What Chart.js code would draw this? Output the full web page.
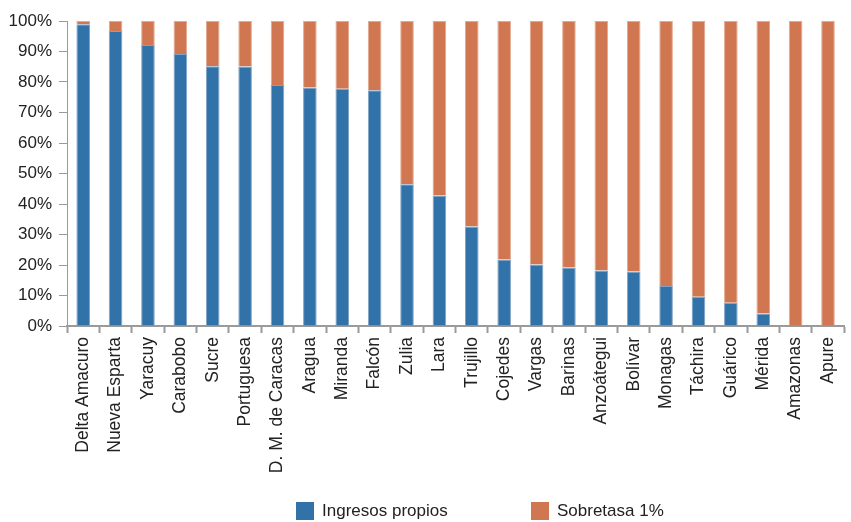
<!DOCTYPE html>
<html>
<head>
<meta charset="utf-8">
<script src="https://cdn.jsdelivr.net/npm/chart.js@4"></script>
<style>
  html, body { margin: 0; padding: 0; overflow: hidden; background: #fff; }
  #wrap { position: relative; width: 853px; height: 522px; }
  .leg { position: absolute; top: 502px; display: flex; align-items: center;
         font: 17px "Liberation Sans", Arial, sans-serif; color: #222; line-height: 18px; }
  .leg i { display: inline-block; width: 18px; height: 18px; margin-right: 8px; }
</style>
</head>
<body>
<div id="wrap">
  <canvas id="chart" width="853" height="522"></canvas>
  <div class="leg" style="left:296px"><i style="background:#3172a8"></i>Ingresos propios</div>
  <div class="leg" style="left:531px"><i style="background:#d07650"></i>Sobretasa 1%</div>
</div>
<script>
// Estados
const estados = ['Delta Amacuro', 'Nueva Esparta', 'Yaracuy', 'Carabobo', 'Sucre', 'Portuguesa',
  'D. M. de Caracas', 'Aragua', 'Miranda', 'Falcón', 'Zulia', 'Lara', 'Trujillo', 'Cojedes',
  'Vargas', 'Barinas', 'Anzoátegui', 'Bolívar', 'Monagas', 'Táchira', 'Guárico', 'Mérida',
  'Amazonas', 'Apure'];

// % of revenue
const ingresosPropios = [98.9, 96.7, 92.1, 89.2, 85.2, 85.1, 79.0, 78.2, 77.8, 77.3, 46.5, 42.8,
  32.6, 21.8, 20.2, 19.2, 18.2, 17.9, 13.1, 9.6, 7.6, 4.1, 0, 0];
const sobretasa = [1.1, 3.3, 7.9, 10.8, 14.8, 14.9, 21.0, 21.8, 22.2, 22.7, 53.5, 57.2,
  67.4, 78.2, 79.8, 80.8, 81.8, 82.1, 86.9, 90.4, 92.4, 95.9, 100, 100];

const yTicks = [0, 10, 20, 30, 40, 50, 60, 70, 80, 90, 100];

const axisGray = '#9a9a9a';
const fontFamily = '"Liberation Sans", Arial, sans-serif';

new Chart(document.getElementById('chart'), {
    type: 'bar',
    data: {
        labels: estados,
        datasets: [{
            label: 'Ingresos propios',
            data: ingresosPropios,
            backgroundColor: '#3172a8',
            borderColor: '#7fa3c6',
            borderWidth: 1,
            barPercentage: 0.42,
            categoryPercentage: 1
        }, {
            label: 'Sobretasa 1%',
            data: sobretasa,
            backgroundColor: '#d07650',
            borderColor: '#e3a88e',
            borderWidth: 1,
            barPercentage: 0.42,
            categoryPercentage: 1
        }]
    },
    options: {
        responsive: false,
        animation: false,
        layout: { padding: { top: 21, left: 0, right: 0, bottom: 0 } },
        plugins: {
            legend: { display: false },
            tooltip: { enabled: false }
        },
        scales: {
            x: {
                stacked: true,
                afterFit: (s) => { s.height = 196; },
                grid: {
                    offset: true,
                    drawOnChartArea: false,
                    tickLength: 7,
                    tickWidth: 2,
                    tickColor: axisGray
                },
                border: { color: axisGray, width: 2 },
                ticks: {
                    font: { family: fontFamily, size: 17.5 },
                    color: '#222',
                    minRotation: 90,
                    maxRotation: 90,
                    autoSkip: false,
                    padding: 4
                }
            },
            y: {
                stacked: true,
                min: 0,
                max: 100,
                afterFit: (s) => { s.width = 67; },
                afterBuildTicks: (s) => { s.ticks = yTicks.map(v => ({ value: v })); },
                grid: {
                    drawOnChartArea: false,
                    tickLength: 8,
                    tickColor: axisGray
                },
                border: { color: axisGray, width: 1 },
                ticks: {
                    font: { family: fontFamily, size: 17 },
                    color: '#222',
                    padding: 7,
                    callback: (v) => v + '%'
                }
            }
        }
    }
});
</script>
</body>
</html>
